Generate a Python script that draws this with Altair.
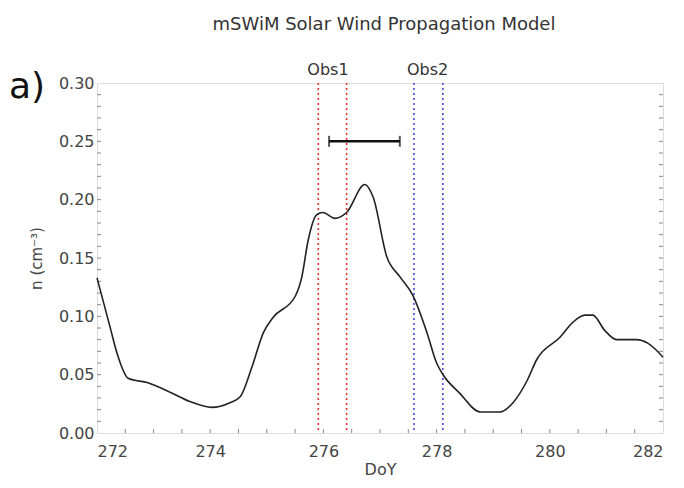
import altair as alt
import pandas as pd

# ---- data ----
doy = [272.0, 272.23, 272.35, 272.55, 272.9, 273.29, 273.64, 274.03, 274.35, 274.53,
       274.74, 274.94, 275.11, 275.5, 275.62, 275.73, 275.88, 275.99, 276.2, 276.41,
       276.73, 276.88, 277.12, 277.35, 277.58, 277.83, 278.0, 278.1, 278.41, 278.77,
       279.12, 279.35, 279.6, 279.77, 280.18, 280.41, 280.62, 280.76, 280.97, 281.18,
       281.53, 281.73, 282.0]
density = [0.133, 0.091, 0.069, 0.047, 0.043, 0.035, 0.027, 0.022, 0.026, 0.031,
           0.057, 0.086, 0.099, 0.117, 0.134, 0.165, 0.187, 0.189, 0.184, 0.189,
           0.213, 0.202, 0.151, 0.134, 0.118, 0.086, 0.060, 0.051, 0.034, 0.018,
           0.018, 0.026, 0.045, 0.063, 0.082, 0.095, 0.101, 0.101, 0.088, 0.080,
           0.080, 0.077, 0.065]

obs1_lines = [275.91, 276.41]
obs2_lines = [277.60, 278.11]
obs_labels = ["Obs1", "Obs2"]
obs_label_pos = [276.08, 277.84]

bar_start = [276.10]
bar_end = [277.35]
bar_level = [0.250]

x_tick_labels = [272, 274, 276, 278, 280, 282]
y_tick_labels = [0.0, 0.05, 0.10, 0.15, 0.20, 0.25, 0.30]
x_minor = [272.5, 273.0, 273.5, 274.0, 274.5, 275.0, 275.5, 276.0, 276.5, 277.0,
           277.5, 278.0, 278.5, 279.0, 279.5, 280.0, 280.5, 281.0, 281.5]
y_minor = [0.01, 0.02, 0.03, 0.04, 0.05, 0.06, 0.07, 0.08, 0.09, 0.10,
           0.11, 0.12, 0.13, 0.14, 0.15, 0.16, 0.17, 0.18, 0.19, 0.20,
           0.21, 0.22, 0.23, 0.24, 0.25, 0.26, 0.27, 0.28, 0.29]

title_text = "mSWiM Solar Wind Propagation Model"
panel_text = "a)"

W, H = 566, 350
FONT = "DejaVu Sans"

xs = alt.Scale(domain=[272, 282], nice=False, zero=False)
ys = alt.Scale(domain=[0, 0.30], nice=False, zero=False)

curve_df = pd.DataFrame({"doy": doy, "n": density})
red_df = pd.DataFrame({"x": obs1_lines})
blue_df = pd.DataFrame({"x": obs2_lines})
lab_df = pd.DataFrame({"x": obs_label_pos, "t": obs_labels})
bar_df = pd.DataFrame({"x1": bar_start, "x2": bar_end, "y": bar_level})
cap_df = pd.DataFrame({"x": bar_start + bar_end, "y": bar_level * 2})
xm_df = pd.DataFrame({"x": x_minor})
ym_df = pd.DataFrame({"y": y_minor})
one = pd.DataFrame({"a": [0]})

xaxis = alt.Axis(values=x_tick_labels, format="d", tickSize=0, domain=False, grid=False,
                 labelFontSize=16, labelColor="#444", labelPadding=10, labelFont=FONT,
                 title="DoY", titleFontSize=16, titleFont=FONT, titleColor="#444",
                 titleFontWeight="normal", titlePadding=2)
yaxis = alt.Axis(values=y_tick_labels, format=".2f", tickSize=0, domain=False, grid=False,
                 labelFontSize=16, labelColor="#444", labelPadding=3, labelFont=FONT,
                 title="n (cm⁻³)", titleFontSize=15, titleFont=FONT, titleColor="#444",
                 titleFontWeight="normal", titlePadding=14)

curve = alt.Chart(curve_df).mark_line(color="#222", strokeWidth=1.6, interpolate="monotone").encode(
    x=alt.X("doy:Q", scale=xs, axis=xaxis),
    y=alt.Y("n:Q", scale=ys, axis=yaxis),
)

red = alt.Chart(red_df).mark_rule(color="#e8302c", strokeWidth=1.6, strokeDash=[2, 3]).encode(
    x=alt.X("x:Q", scale=xs))
blue = alt.Chart(blue_df).mark_rule(color="#4a4ae0", strokeWidth=1.6, strokeDash=[2, 3]).encode(
    x=alt.X("x:Q", scale=xs))

labels = alt.Chart(lab_df).mark_text(fontSize=16, font=FONT, color="#333", baseline="alphabetic",
                                     align="center").encode(
    x=alt.X("x:Q", scale=xs), y=alt.value(-8), text="t:N")

bar = alt.Chart(bar_df).mark_rule(color="#111", strokeWidth=2.5).encode(
    x=alt.X("x1:Q", scale=xs), x2="x2:Q", y=alt.Y("y:Q", scale=ys))
caps = alt.Chart(cap_df).mark_tick(color="#111", thickness=2, size=11, orient="vertical").encode(
    x=alt.X("x:Q", scale=xs), y=alt.Y("y:Q", scale=ys))

xticks = alt.Chart(xm_df).mark_rule(color="#888", strokeWidth=1).encode(
    x=alt.X("x:Q", scale=xs), y=alt.value(H - 4), y2=alt.value(H))
ytl = alt.Chart(ym_df).mark_rule(color="#888", strokeWidth=1).encode(
    y=alt.Y("y:Q", scale=ys), x=alt.value(0), x2=alt.value(4))
ytr = alt.Chart(ym_df).mark_rule(color="#888", strokeWidth=1).encode(
    y=alt.Y("y:Q", scale=ys), x=alt.value(W - 4), x2=alt.value(W))

title = alt.Chart(one).mark_text(text=title_text, fontSize=18, font=FONT, color="#333",
                                 align="center", baseline="alphabetic").encode(
    x=alt.value(W / 2 + 4), y=alt.value(-53))
panel = alt.Chart(one).mark_text(text=panel_text, fontSize=36, font=FONT, color="#111",
                                 align="left", baseline="alphabetic").encode(
    x=alt.value(-88), y=alt.value(15))

chart = alt.layer(xticks, ytl, ytr, red, blue, curve, bar, caps, labels, title, panel).properties(
    width=W, height=H,
    autosize=alt.AutoSizeParams(type="none"),
    padding={"left": 89, "top": 75, "right": 8, "bottom": 47},
).configure_view(stroke="#8a8a8a", strokeWidth=1.5).configure(background="white")

chart.save("out.html", embed_options={"renderer": "svg", "actions": False})
